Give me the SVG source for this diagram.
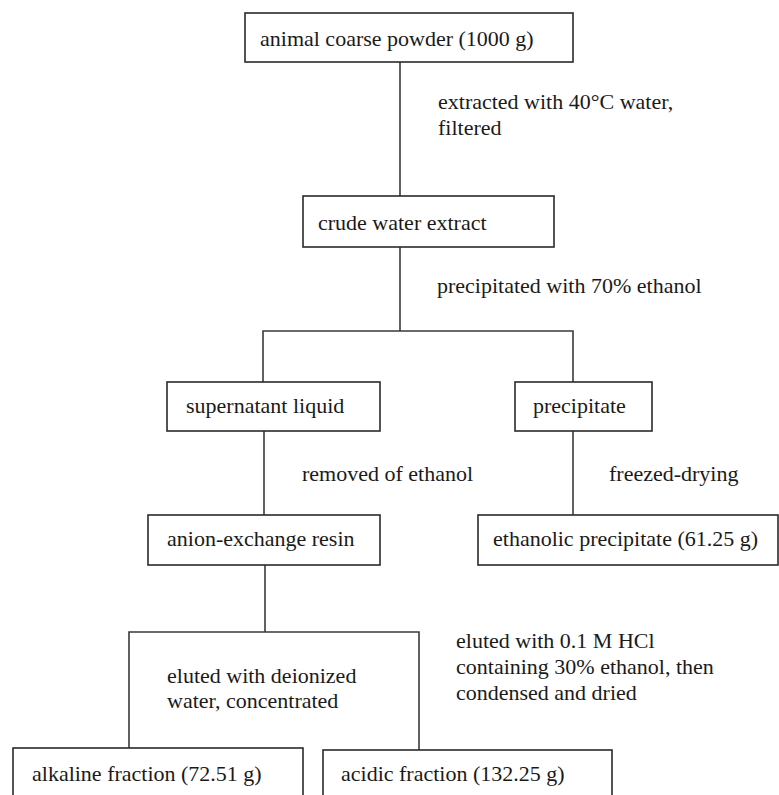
<svg xmlns="http://www.w3.org/2000/svg" width="779" height="795" viewBox="0 0 779 795">
<style>
.box{fill:#fff;stroke:#2a2a2a;stroke-width:1.6}
.lbl{font-family:"Liberation Serif","Times New Roman",serif;font-size:22px;fill:#1a1a1a}
.con{fill:none;stroke:#3a3a3a;stroke-width:1.6}
</style>
<rect width="779" height="795" fill="#fff"/>
<g id="connectors">
<path class="con" d="M400 62V196"/>
<path class="con" d="M400 247V331"/>
<path class="con" d="M263 382V331H573V382"/>
<path class="con" d="M264 431V515"/>
<path class="con" d="M573 431V515"/>
<path class="con" d="M265 565V632"/>
<path class="con" d="M129 748V632H419V750"/>
<text class="lbl" x="438" y="109">extracted with 40°C water,</text>
<text class="lbl" x="438" y="135">filtered</text>
<text class="lbl" x="437" y="293">precipitated with 70% ethanol</text>
<text class="lbl" x="302" y="481">removed of ethanol</text>
<text class="lbl" x="609" y="481">freezed-drying</text>
<text class="lbl" x="167" y="683">eluted with deionized</text>
<text class="lbl" x="167" y="708">water, concentrated</text>
<text class="lbl" x="456" y="648">eluted with 0.1 M HCl</text>
<text class="lbl" x="456" y="674">containing 30% ethanol, then</text>
<text class="lbl" x="456" y="700">condensed and dried</text>
</g>
<g id="n-powder"><rect class="box" x="245" y="13" width="328" height="49"/><text class="lbl" x="260" y="46">animal coarse powder (1000 g)</text></g>
<g id="n-crude"><rect class="box" x="303" y="196" width="251" height="51"/><text class="lbl" x="318" y="230">crude water extract</text></g>
<g id="n-supernatant"><rect class="box" x="167" y="382" width="213" height="49"/><text class="lbl" x="186" y="413">supernatant liquid</text></g>
<g id="n-precipitate"><rect class="box" x="515" y="382" width="137" height="49"/><text class="lbl" x="533" y="413">precipitate</text></g>
<g id="n-resin"><rect class="box" x="148" y="515" width="232" height="50"/><text class="lbl" x="167" y="546">anion-exchange resin</text></g>
<g id="n-ethanolic"><rect class="box" x="478" y="515" width="300" height="50"/><text class="lbl" x="493" y="546">ethanolic precipitate (61.25 g)</text></g>
<g id="n-alkaline"><rect class="box" x="13" y="748" width="290" height="60"/><text class="lbl" x="32" y="781">alkaline fraction (72.51 g)</text></g>
<g id="n-acidic"><rect class="box" x="323" y="750" width="289" height="60"/><text class="lbl" x="341" y="781">acidic fraction (132.25 g)</text></g>
</svg>
